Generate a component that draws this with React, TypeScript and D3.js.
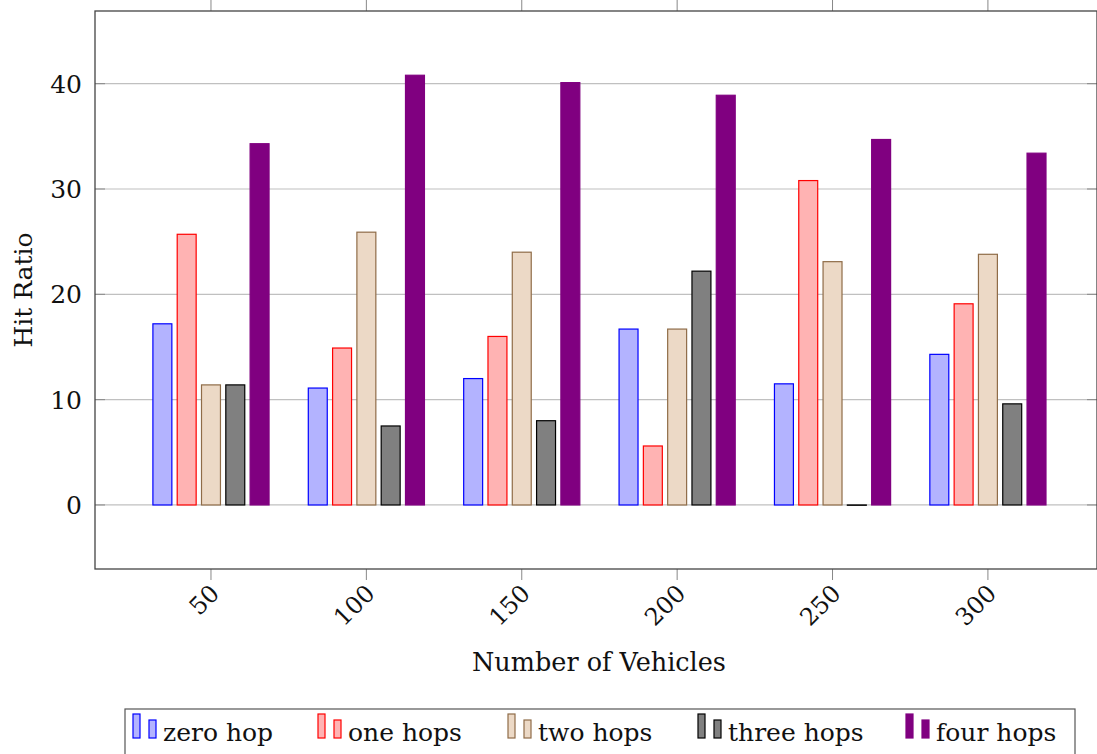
import React from "react";
import * as d3 from "d3";

const vehicles = [50, 100, 150, 200, 250, 300];
const seriesNames = ["zero hop", "one hops", "two hops", "three hops", "four hops"];
const zeroHop = [17.2, 11.1, 12.0, 16.7, 11.5, 14.3];
const oneHops = [25.7, 14.9, 16.0, 5.6, 30.8, 19.1];
const twoHops = [11.4, 25.9, 24.0, 16.7, 23.1, 23.8];
const threeHops = [11.4, 7.5, 8.0, 22.2, 0.0, 9.6];
const fourHops = [34.3, 40.8, 40.1, 38.9, 34.7, 33.4];
const yTicks = [0, 10, 20, 30, 40];

const seriesValues = [zeroHop, oneHops, twoHops, threeHops, fourHops];
const fills = ["#b3b3ff", "#ffb3b3", "#ecd9c6", "#808080", "#800080"];
const strokes = ["#0000ff", "#ff0000", "#8f6c48", "#000000", "#800080"];

const W = 1097;
const H = 754;
const left = 95, right = 1097, top = 11, bottom = 569;
const font = "'DejaVu Serif', serif";

const App = () => {
  const x = d3.scaleLinear().domain([12.68, 335.1]).range([left, right]);
  const y = d3.scaleLinear().domain([-6.08, 46.9]).range([bottom, top]);
  const band = d3
    .scaleBand<string>()
    .domain(seriesNames)
    .range([-60.75, 60.75])
    .paddingInner(0.22)
    .paddingOuter(0.11);

  // legend entry x positions
  const legendX = [133, 318, 508, 698, 906];

  return (
    <svg
      width={W}
      height={H}
      style={{ position: "absolute", left: 0, top: 0, display: "block" }}
      fontFamily={font}
    >
      <rect width={W} height={H} fill="#fff" />
      {/* grid */}
      {yTicks.map((t) => (
        <line key={"g" + t} x1={left} x2={right} y1={y(t)} y2={y(t)} stroke="#c0c0c0" strokeWidth={1.2} />
      ))}
      {/* bars */}
      {seriesValues.map((vals, si) =>
        vals.map((v, i) => {
          const bx = x(vehicles[i]) + (band(seriesNames[si]) as number);
          const y0 = y(0);
          const y1 = y(v);
          const h = Math.max(Math.abs(y0 - y1), 0.3);
          return (
            <rect
              key={si + "-" + i}
              x={bx}
              y={Math.min(y0, y1)}
              width={band.bandwidth()}
              height={h}
              fill={fills[si]}
              stroke={strokes[si]}
              strokeWidth={1.2}
            />
          );
        })
      )}
      {/* y ticks */}
      {yTicks.map((t) => (
        <g key={"y" + t}>
          <line x1={left} x2={left + 10} y1={y(t)} y2={y(t)} stroke="#888" strokeWidth={1} />
          <line x1={right - 10} x2={right} y1={y(t)} y2={y(t)} stroke="#888" strokeWidth={1} />
          <text x={82} y={y(t)} dy="0.36em" textAnchor="end" fontSize={25} fill="#111">
            {t}
          </text>
        </g>
      ))}
      {/* x ticks */}
      {vehicles.map((v) => (
        <g key={"x" + v}>
          <line x1={x(v)} x2={x(v)} y1={bottom} y2={bottom + 11} stroke="#888" strokeWidth={1} />
          <line x1={x(v)} x2={x(v)} y1={0} y2={top} stroke="#888" strokeWidth={1} />
          <text
            transform={`translate(${x(v) - 2},${bottom + 14}) rotate(-45)`}
            textAnchor="end"
            dy="0.7em"
            fontSize={24}
            fill="#111"
          >
            {v}
          </text>
        </g>
      ))}
      {/* frame */}
      <rect x={left} y={top} width={right - left} height={bottom - top} fill="none" stroke="#444" strokeWidth={1.3} />
      {/* axis labels */}
      <text x={(left + right) / 2 + 3} y={671} textAnchor="middle" fontSize={25.5} fill="#111">
        Number of Vehicles
      </text>
      <text transform={`translate(32,290) rotate(-90)`} textAnchor="middle" fontSize={25} fill="#111">
        Hit Ratio
      </text>
      {/* legend */}
      <rect x={125} y={709} width={950} height={50} fill="#fff" stroke="#555" strokeWidth={1.2} />
      {seriesNames.map((name, si) => (
        <g key={"l" + si}>
          <rect x={legendX[si]} y={714} width={7} height={24} fill={fills[si]} stroke={strokes[si]} strokeWidth={1.2} />
          <rect x={legendX[si] + 16} y={720} width={7} height={18} fill={fills[si]} stroke={strokes[si]} strokeWidth={1.2} />
          <text x={legendX[si] + 30} y={741} fontSize={25} fill="#111">
            {name}
          </text>
        </g>
      ))}
    </svg>
  );
};

export default App;
